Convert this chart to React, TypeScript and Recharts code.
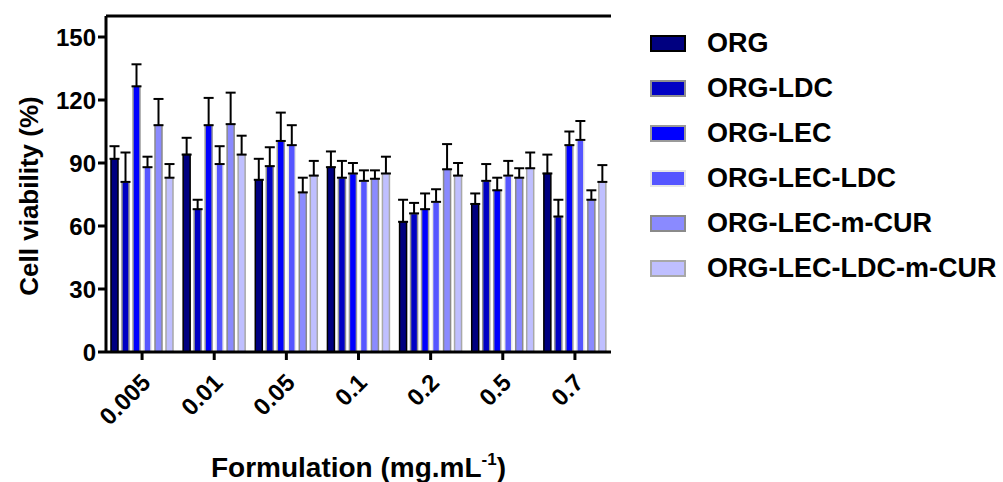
import {
  BarChart,
  Bar,
  XAxis,
  YAxis,
  ErrorBar,
  ReferenceLine,
  Label,
} from "recharts";

const categories = ["0.005", "0.01", "0.05", "0.1", "0.2", "0.5", "0.7"];

const org = [92, 94, 82, 88, 62, 70.5, 85];
const orgErr = [6, 8, 10, 7.5, 10.5, 5, 9];
const orgLdc = [81, 68, 88.5, 83, 66, 81.5, 64.5];
const orgLdcErr = [14, 4.5, 9, 8, 5, 8, 8];
const orgLec = [126.5, 108, 100.5, 85, 68, 77, 98.5];
const orgLecErr = [10.5, 13, 13.5, 5, 7.5, 6, 6.5];
const orgLecLdc = [88, 89.5, 98.5, 81.5, 71.5, 84, 101];
const orgLecLdcErr = [5, 8.5, 9.5, 5, 6, 7, 9];
const orgLecCur = [108, 108.5, 76, 82.5, 87, 83, 72.5];
const orgLecCurErr = [12.5, 15, 7, 4, 12, 4.5, 4.5];
const orgLecLdcCur = [83, 94, 84, 85, 84, 87.5, 81];
const orgLecLdcCurErr = [6.5, 9, 7, 8, 6, 7.5, 8];

const yTicks = [0, 30, 60, 90, 120, 150];

const series = [
  { key: "s0", name: "ORG", values: org, errs: orgErr, fill: "#000080", stroke: "#000000" },
  { key: "s1", name: "ORG-LDC", values: orgLdc, errs: orgLdcErr, fill: "#0000c4", stroke: "#8f8f8f" },
  { key: "s2", name: "ORG-LEC", values: orgLec, errs: orgLecErr, fill: "#0000ff", stroke: "#9a9a9a" },
  { key: "s3", name: "ORG-LEC-LDC", values: orgLecLdc, errs: orgLecLdcErr, fill: "#5555ff", stroke: "#e6e6e6" },
  { key: "s4", name: "ORG-LEC-m-CUR", values: orgLecCur, errs: orgLecCurErr, fill: "#8a8aff", stroke: "#8a8a8a" },
  { key: "s5", name: "ORG-LEC-LDC-m-CUR", values: orgLecLdcCur, errs: orgLecLdcCurErr, fill: "#bfbfff", stroke: "#a8a8a8" },
];

const data = categories.map((name, i) => {
  const row: Record<string, unknown> = { name };
  series.forEach((s) => {
    row[s.key] = s.values[i];
    row[s.key + "e"] = [0, s.errs[i]];
  });
  return row;
});

const FONT = "'Liberation Sans', Arial, sans-serif";

const XTick = (props: any) => {
  const { x, y, payload } = props;
  const ax = x + 10;
  const ay = y + 22;
  return (
    <text
      x={ax}
      y={ay}
      transform={`rotate(-45 ${ax} ${ay})`}
      textAnchor="end"
      fontFamily={FONT}
      fontWeight="bold"
      fontSize={24}
      fill="#000"
    >
      {payload.value}
    </text>
  );
};

const ChartLegend = () => (
  <div
    style={{
      position: "absolute",
      left: 650,
      top: 21,
      fontFamily: FONT,
      fontWeight: "bold",
      fontSize: 27,
    }}
  >
    {series.map((s) => (
      <div key={s.key} style={{ display: "flex", alignItems: "center", height: 45 }}>
        <div
          style={{
            width: 32,
            height: 13,
            background: s.fill,
            border: `2px solid ${s.stroke}`,
            marginRight: 21,
          }}
        />
        <span style={{ color: "#000", whiteSpace: "nowrap" }}>{s.name}</span>
      </div>
    ))}
  </div>
);

export default function App() {
  return (
    <div style={{ position: "absolute", left: 0, top: 0, width: 1003, height: 482, background: "#fff" }}>
      <BarChart
        width={612}
        height={482}
        data={data}
        margin={{ top: 16, right: 1, left: 0, bottom: 0 }}
        barSize={7}
        barGap={4}
      >
        <XAxis
          dataKey="name"
          height={130}
          tick={<XTick />}
          tickSize={8}
          stroke="#000"
          strokeWidth={3}
          tickLine={{ stroke: "#000", strokeWidth: 3 }}
          interval={0}
        >
          <Label
            content={(p: any) => {
              const vb = p.viewBox;
              return (
                <text
                  x={vb.x + vb.width / 2}
                  y={477}
                  textAnchor="middle"
                  fontFamily={FONT}
                  fontWeight="bold"
                  fontSize={28}
                  fill="#000"
                >
                  Formulation (mg.mL
                  <tspan fontSize={17} dy={-12}>-1</tspan>
                  <tspan dy={12}>)</tspan>
                </text>
              );
            }}
          />
        </XAxis>
        <YAxis
          yAxisId="left"
          width={106}
          domain={[0, 160]}
          ticks={yTicks}
          tickSize={8}
          stroke="#000"
          strokeWidth={3}
          tickLine={{ stroke: "#000", strokeWidth: 3 }}
          tick={{ fontFamily: FONT, fontWeight: "bold", fontSize: 24, fill: "#000" }}
          allowDataOverflow
        >
          <Label
            content={(p: any) => {
              const vb = p.viewBox;
              const cx = 38;
              const cy = vb.y + vb.height / 2 + 12;
              return (
                <text
                  x={cx}
                  y={cy}
                  transform={`rotate(-90 ${cx} ${cy})`}
                  textAnchor="middle"
                  fontFamily={FONT}
                  fontWeight="bold"
                  fontSize={26}
                  fill="#000"
                >
                  Cell viability (%)
                </text>
              );
            }}
          />
        </YAxis>
        <YAxis
          yAxisId="right"
          orientation="right"
          width={0}
          domain={[0, 160]}
          tick={false}
          tickLine={false}
          stroke="#000"
          strokeWidth={3}
        />
        <ReferenceLine yAxisId="left" y={160} stroke="#000" strokeWidth={3} />
        {series.map((s) => (
          <Bar
            key={s.key}
            yAxisId="left"
            dataKey={s.key}
            name={s.name}
            fill={s.fill}
            stroke={s.stroke}
            strokeWidth={1.5}
            isAnimationActive={false}
          >
            <ErrorBar
              dataKey={s.key + "e"}
              width={5}
              stroke="#000"
              strokeWidth={2}
              direction="y"
            />
          </Bar>
        ))}
      </BarChart>
      <ChartLegend />
    </div>
  );
}
